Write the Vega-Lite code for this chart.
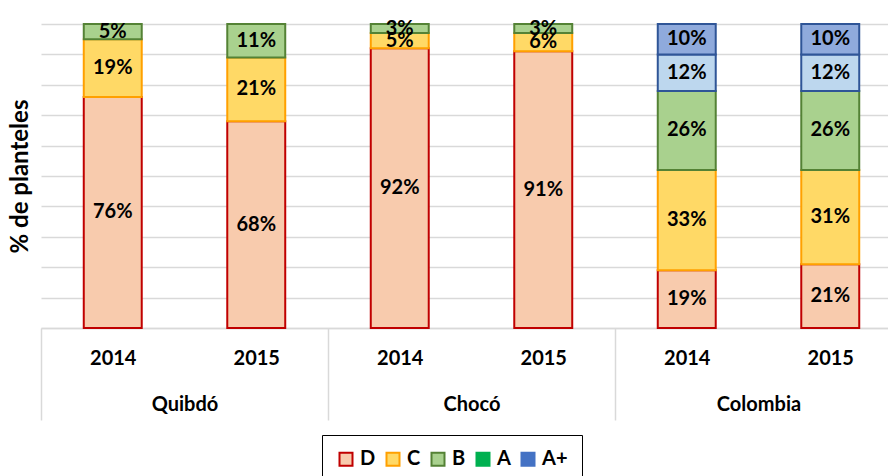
{
  "$schema": "https://vega.github.io/schema/vega-lite/v6.json",
  "width": 847,
  "height": 304,
  "autosize": {"type": "none"},
  "padding": {"left": 41, "top": 24, "right": 0, "bottom": 148},
  "config": {
    "font": "Lato",
    "view": {"stroke": null},
    "axis": {"labelFont": "Lato", "titleFont": "Lato"}
  },
  "data": {
    "values": [
      {"region": "Quibdó", "year": "2014", "id": "Quibdó 2014", "grade": "D", "orden": 1, "pct": 0.76},
      {"region": "Quibdó", "year": "2014", "id": "Quibdó 2014", "grade": "C", "orden": 2, "pct": 0.19},
      {"region": "Quibdó", "year": "2014", "id": "Quibdó 2014", "grade": "B", "orden": 3, "pct": 0.05},
      {"region": "Quibdó", "year": "2015", "id": "Quibdó 2015", "grade": "D", "orden": 1, "pct": 0.68},
      {"region": "Quibdó", "year": "2015", "id": "Quibdó 2015", "grade": "C", "orden": 2, "pct": 0.21},
      {"region": "Quibdó", "year": "2015", "id": "Quibdó 2015", "grade": "B", "orden": 3, "pct": 0.11},
      {"region": "Chocó", "year": "2014", "id": "Chocó 2014", "grade": "D", "orden": 1, "pct": 0.92},
      {"region": "Chocó", "year": "2014", "id": "Chocó 2014", "grade": "C", "orden": 2, "pct": 0.05},
      {"region": "Chocó", "year": "2014", "id": "Chocó 2014", "grade": "B", "orden": 3, "pct": 0.03},
      {"region": "Chocó", "year": "2015", "id": "Chocó 2015", "grade": "D", "orden": 1, "pct": 0.91},
      {"region": "Chocó", "year": "2015", "id": "Chocó 2015", "grade": "C", "orden": 2, "pct": 0.06},
      {"region": "Chocó", "year": "2015", "id": "Chocó 2015", "grade": "B", "orden": 3, "pct": 0.03},
      {"region": "Colombia", "year": "2014", "id": "Colombia 2014", "grade": "D", "orden": 1, "pct": 0.19},
      {"region": "Colombia", "year": "2014", "id": "Colombia 2014", "grade": "C", "orden": 2, "pct": 0.33},
      {"region": "Colombia", "year": "2014", "id": "Colombia 2014", "grade": "B", "orden": 3, "pct": 0.26},
      {"region": "Colombia", "year": "2014", "id": "Colombia 2014", "grade": "A", "orden": 4, "pct": 0.12},
      {"region": "Colombia", "year": "2014", "id": "Colombia 2014", "grade": "A+", "orden": 5, "pct": 0.10},
      {"region": "Colombia", "year": "2015", "id": "Colombia 2015", "grade": "D", "orden": 1, "pct": 0.21},
      {"region": "Colombia", "year": "2015", "id": "Colombia 2015", "grade": "C", "orden": 2, "pct": 0.31},
      {"region": "Colombia", "year": "2015", "id": "Colombia 2015", "grade": "B", "orden": 3, "pct": 0.26},
      {"region": "Colombia", "year": "2015", "id": "Colombia 2015", "grade": "A", "orden": 4, "pct": 0.12},
      {"region": "Colombia", "year": "2015", "id": "Colombia 2015", "grade": "A+", "orden": 5, "pct": 0.10}
    ]
  },
  "transform": [
    {"stack": "pct", "groupby": ["region", "year"], "sort": [{"field": "orden", "order": "ascending"}], "as": ["v0", "v1"]}
  ],
  "layer": [
    {
      "mark": {"type": "bar", "strokeWidth": 2},
      "encoding": {
        "y": {
          "field": "v0",
          "type": "quantitative",
          "scale": {"domain": [0, 1]},
          "axis": {
            "values": [0, 0.1, 0.2, 0.3, 0.4, 0.5, 0.6, 0.7, 0.8, 0.9, 1],
            "labels": false, "ticks": false, "domain": false,
            "grid": true, "gridColor": "#D9D9D9", "gridWidth": 1.5,
            "title": "% de planteles", "titleFontSize": 24, "titleFontWeight": "bold",
            "titleColor": "#000000", "titlePadding": 9
          }
        },
        "y2": {"field": "v1"},
        "x": {
          "field": "region", "type": "nominal",
          "sort": ["Quibdó", "Chocó", "Colombia"],
          "scale": {"range": [0, 861], "paddingInner": 0, "paddingOuter": 0},
          "axis": {
            "orient": "bottom", "title": null, "domain": false,
            "ticks": true, "tickBand": "extent", "tickSize": 92,
            "tickColor": "#D9D9D9", "tickWidth": 1.5,
            "labelAngle": 0, "labelFontSize": 20, "labelFontWeight": "bold",
            "labelColor": "#000000", "labelPadding": -26
          }
        },
        "xOffset": {
          "field": "year", "type": "nominal",
          "scale": {"paddingInner": 0.596, "paddingOuter": 0.298}
        },
        "fill": {
          "field": "grade", "type": "nominal",
          "scale": {
            "domain": ["D", "C", "B", "A", "A+"],
            "range": ["#F8CBAD", "#FFD966", "#A9D18E", "#BDD7EE", "#8FAADC"]
          },
          "legend": null
        },
        "stroke": {
          "field": "grade", "type": "nominal",
          "scale": {
            "domain": ["D", "C", "B", "A", "A+"],
            "range": ["#C00000", "#FFA000", "#548235", "#2F5597", "#2F5597"]
          },
          "legend": null
        }
      }
    },
    {
      "transform": [
        {"fold": ["v0", "v1"], "as": ["edgeName", "edge"]},
        {"aggregate": [{"op": "mean", "field": "edge", "as": "mid"}], "groupby": ["id", "grade", "pct"]}
      ],
      "mark": {"type": "text", "fontSize": 20, "fontWeight": "bold", "color": "#000000"},
      "encoding": {
        "y": {
          "field": "mid",
          "type": "quantitative",
          "scale": {"domain": [0, 1]},
          "axis": {
            "values": [0, 0.1, 0.2, 0.3, 0.4, 0.5, 0.6, 0.7, 0.8, 0.9, 1],
            "labels": false, "ticks": false, "domain": false,
            "grid": true, "gridColor": "#D9D9D9", "gridWidth": 1.5,
            "title": "% de planteles", "titleFontSize": 24, "titleFontWeight": "bold",
            "titleColor": "#000000", "titlePadding": 9
          }
        },
        "x": {
          "field": "id", "type": "nominal",
          "sort": ["Quibdó 2014", "Quibdó 2015", "Chocó 2014", "Chocó 2015", "Colombia 2014", "Colombia 2015"],
          "scale": {"range": [0, 861], "paddingInner": 0.596, "paddingOuter": 0.298},
          "axis": {
            "orient": "bottom", "title": null,
            "domain": true, "domainColor": "#D9D9D9", "domainWidth": 1.5,
            "ticks": false, "labelAngle": 0,
            "labelExpr": "slice(datum.label, -4)",
            "labelFontSize": 20, "labelFontWeight": "bold", "labelColor": "#000000",
            "labelPadding": 20
          }
        },
        "text": {"field": "pct", "type": "quantitative", "format": ".0%"}
      }
    },
    {
      "mark": {"type": "square", "opacity": 0, "size": 1},
      "encoding": {
        "fill": {
          "field": "grade", "type": "nominal",
          "scale": {
            "domain": ["D", "C", "B", "A", "A+"],
            "range": ["#F8CBAD", "#FFD966", "#A9D18E", "#00B050", "#4472C4"]
          },
          "legend": {
            "orient": "none", "legendX": 281, "legendY": 411,
            "direction": "horizontal", "title": null,
            "symbolType": "square", "symbolSize": 169, "symbolStrokeWidth": 2, "symbolOpacity": 1,
            "labelFontSize": 20, "labelFontWeight": "bold", "labelColor": "#000000",
            "labelOffset": 4, "columnPadding": 6,
            "strokeColor": "#000000", "padding": 14
          }
        },
        "stroke": {
          "field": "grade", "type": "nominal",
          "scale": {
            "domain": ["D", "C", "B", "A", "A+"],
            "range": ["#C00000", "#FFA000", "#548235", "#00B050", "#4472C4"]
          },
          "legend": {
            "orient": "none", "legendX": 281, "legendY": 411,
            "direction": "horizontal", "title": null,
            "symbolType": "square", "symbolSize": 169, "symbolStrokeWidth": 2, "symbolOpacity": 1,
            "labelFontSize": 20, "labelFontWeight": "bold", "labelColor": "#000000",
            "labelOffset": 4, "columnPadding": 6,
            "strokeColor": "#000000", "padding": 14
          }
        }
      }
    }
  ],
  "resolve": {
    "scale": {"x": "independent", "fill": "independent", "stroke": "independent"},
    "axis": {"x": "independent"}
  }
}
